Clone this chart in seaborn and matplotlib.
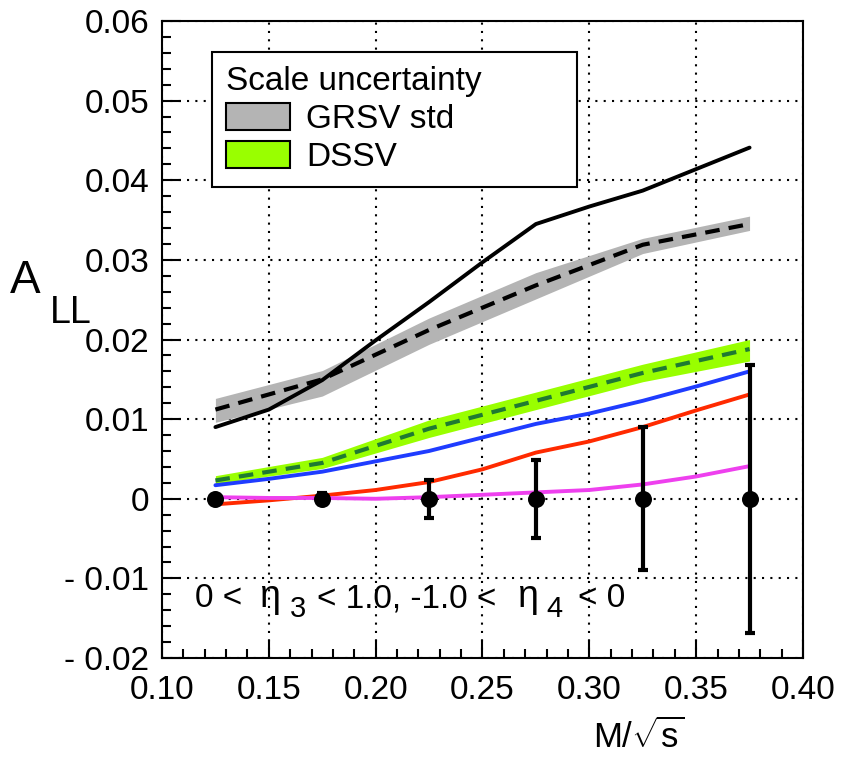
import numpy as np
import pandas as pd
import seaborn as sns
import matplotlib
matplotlib.use("Agg")
import matplotlib.pyplot as plt
from matplotlib.patches import Patch
from matplotlib.ticker import MultipleLocator, FixedLocator

# ---- data -------------------------------------------------------------
m_bins = [0.125, 0.175, 0.225, 0.275, 0.325, 0.375]
a_ll_data = [0.0, 0.0, 0.0, 0.0, 0.0, 0.0]
a_ll_err = [0.0004, 0.0007, 0.0024, 0.0049, 0.0090, 0.0168]

# scale-uncertainty bands (evaluated at the bin centres)
grsv_std_mid = [0.0112, 0.0150, 0.0212, 0.0268, 0.0319, 0.0345]
grsv_std_lo = [0.0096, 0.0129, 0.0194, 0.0251, 0.0308, 0.0337]
grsv_std_hi = [0.0126, 0.0161, 0.0227, 0.0284, 0.0327, 0.0355]

dssv_mid = [0.0023, 0.0045, 0.0088, 0.0123, 0.0158, 0.0188]
dssv_lo = [0.0019, 0.0038, 0.0077, 0.0112, 0.0147, 0.0173]
dssv_hi = [0.0029, 0.0052, 0.0099, 0.0134, 0.0169, 0.0200]

# other polarized-gluon scenarios
m_curve = [0.125, 0.150, 0.175, 0.200, 0.225, 0.250, 0.275, 0.300, 0.325, 0.350, 0.375]
curve_black = [0.0090, 0.0112, 0.0149, 0.0199, 0.0247, 0.0297, 0.0345, 0.0367, 0.0387, 0.0414, 0.0441]
curve_blue = [0.0017, 0.0025, 0.0034, 0.0047, 0.0060, 0.0077, 0.0094, 0.0107, 0.0123, 0.0141, 0.0160]
curve_red = [-0.0007, -0.0002, 0.0004, 0.0011, 0.0021, 0.0037, 0.0058, 0.0072, 0.0090, 0.0111, 0.0131]
curve_magenta = [0.0002, 0.0001, 0.0001, 0.0000, 0.0002, 0.0005, 0.0008, 0.0011, 0.0018, 0.0028, 0.0041]

y_ticks = [-0.02, -0.01, 0.0, 0.01, 0.02, 0.03, 0.04, 0.05, 0.06]
y_tick_labels = ["- 0.02", "- 0.01", "0", "0.01", "0.02", "0.03", "0.04", "0.05", "0.06"]
x_ticks = [0.10, 0.15, 0.20, 0.25, 0.30, 0.35, 0.40]
x_tick_labels = ["0.10", "0.15", "0.20", "0.25", "0.30", "0.35", "0.40"]

# ---- style ------------------------------------------------------------
sns.set_style("white")
plt.rcParams["font.family"] = ["Liberation Sans", "DejaVu Sans"]
plt.rcParams["text.color"] = "black"
plt.rcParams["axes.labelcolor"] = "black"
plt.rcParams["legend.labelcolor"] = "black"
plt.rcParams["mathtext.fontset"] = "custom"
plt.rcParams["mathtext.rm"] = "Liberation Sans"
plt.rcParams["mathtext.it"] = "Liberation Sans"
plt.rcParams["mathtext.default"] = "regular"

fig = plt.figure(figsize=(8.49, 7.58), dpi=100)
ax = fig.add_axes([0.1908, 0.1319, 0.7550, 0.8404])

# bands
ax.fill_between(m_bins, grsv_std_lo, grsv_std_hi, color="#b4b4b4", lw=0, zorder=2)
ax.fill_between(m_bins, dssv_lo, dssv_hi, color="#99ff00", lw=0, zorder=2)

# central curves
sns.lineplot(x=m_bins, y=grsv_std_mid, ax=ax, color="black", linewidth=3.0,
             linestyle=(0, (3.5, 2.2)), zorder=4)
sns.lineplot(x=m_bins, y=dssv_mid, ax=ax, color="#1f7a32", linewidth=3.0,
             linestyle=(0, (3.5, 2.2)), zorder=4)
sns.lineplot(x=m_curve, y=curve_black, ax=ax, color="black", linewidth=2.8, zorder=4)
sns.lineplot(x=m_curve, y=curve_blue, ax=ax, color="#1f3cff", linewidth=2.8, zorder=4)
sns.lineplot(x=m_curve, y=curve_red, ax=ax, color="#ff2a00", linewidth=2.8, zorder=4)
sns.lineplot(x=m_curve, y=curve_magenta, ax=ax, color="#ee40ee", linewidth=2.8, zorder=4)

# projected data points with statistical errors
ax.errorbar(m_bins, a_ll_data, yerr=a_ll_err, fmt="none", ecolor="black",
            elinewidth=3, capsize=3.5, capthick=3, zorder=5)
sns.scatterplot(x=m_bins, y=a_ll_data, ax=ax, color="black", s=150,
                edgecolor="black", linewidth=0, zorder=6)

# axes
ax.set_xlim(0.10, 0.40)
ax.set_ylim(-0.02, 0.06)
ax.xaxis.set_major_locator(FixedLocator(x_ticks))
ax.set_xticklabels(x_tick_labels)
ax.yaxis.set_major_locator(FixedLocator(y_ticks))
ax.set_yticklabels(y_tick_labels)
ax.xaxis.set_minor_locator(MultipleLocator(0.01))
ax.yaxis.set_minor_locator(MultipleLocator(0.002))
ax.tick_params(axis="both", which="both", direction="in", bottom=True, left=True,
               top=False, right=False, width=1.5, color="black",
               labelsize=24, labelcolor="black")
ax.tick_params(axis="x", which="major", length=13, pad=12)
ax.tick_params(axis="x", which="minor", length=6.5)
ax.tick_params(axis="y", which="major", length=14, pad=9)
ax.tick_params(axis="y", which="minor", length=6.5)
for sp in ax.spines.values():
    sp.set_visible(True)
    sp.set_color("black")
    sp.set_linewidth(1.5)

ax.grid(True, which="major", color="black", lw=1.5, linestyle=(0, (1, 3)))
ax.set_axisbelow(True)
for gl in ax.get_xgridlines() + ax.get_ygridlines():
    gl.set_zorder(1)

ax.set_ylabel("")
ax.set_xlabel(r"M/$\sqrt{\mathrm{s}}$", fontsize=25, color="black")
ax.xaxis.set_label_coords(0.744, -0.095)

fig.text(0.0118, 0.6135, "A", fontsize=33, ha="left", va="baseline", color="black")
fig.text(0.0589, 0.574, "LL", fontsize=27, ha="left", va="baseline", color="black")

# pseudorapidity selection, set piece by piece so the subscripts stay large
eta_pieces = [
    (0.0515, 0.080, "0 <", 24),
    (0.1513, 0.080, "\u03b7", 27),
    (0.1997, 0.064, "3", 21),
    (0.2418, 0.080, "< 1.0, -1.0 <", 24),
    (0.5538, 0.080, "\u03b7", 27),
    (0.5990, 0.064, "4", 21),
    (0.6490, 0.080, "< 0", 24),
]
for px, py, txt, fs in eta_pieces:
    ax.text(px, py, txt, transform=ax.transAxes, fontsize=fs, color="black",
            ha="left", va="baseline", zorder=7)

# legend
handles = [Patch(facecolor="#b4b4b4", edgecolor="black", lw=1.5, label="GRSV std"),
           Patch(facecolor="#99ff00", edgecolor="black", lw=1.5, label="DSSV")]
leg = ax.legend(handles=handles, title="Scale uncertainty", fontsize=24,
                title_fontsize=24, loc="upper left",
                bbox_to_anchor=(0.0775, 0.7405, 0.5695, 0.2105), mode="expand",
                borderaxespad=0, borderpad=0.42, handlelength=1.92, handleheight=0.87,
                handletextpad=0.5, labelspacing=0.18, fancybox=False, shadow=False,
                framealpha=1, edgecolor="black", alignment="left")
leg.get_frame().set_linewidth(1.5)
leg.get_title().set_color("black")
for t in leg.get_texts():
    t.set_color("black")
leg.set_zorder(8)

fig.savefig("out.png", dpi=100)
